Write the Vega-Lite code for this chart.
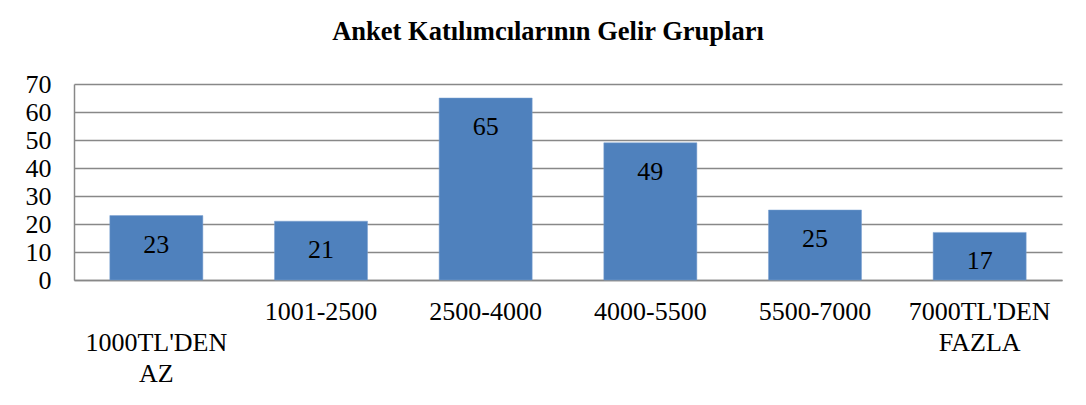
{
  "$schema": "https://vega.github.io/schema/vega-lite/v6.json",
  "width": 988,
  "height": 196,
  "autosize": "none",
  "padding": {"left": 74, "top": 84, "right": 24, "bottom": 125},
  "background": "white",
  "title": {
    "text": "Anket Katılımcılarının Gelir Grupları",
    "font": "Liberation Serif",
    "fontSize": 26.5,
    "fontWeight": "bold",
    "color": "black",
    "anchor": "middle",
    "dx": -20,
    "offset": 26
  },
  "data": {
    "values": [
      {"grup": "1000TL'DEN AZ", "sayi": 23},
      {"grup": "1001-2500", "sayi": 21},
      {"grup": "2500-4000", "sayi": 65},
      {"grup": "4000-5500", "sayi": 49},
      {"grup": "5500-7000", "sayi": 25},
      {"grup": "7000TL'DEN FAZLA", "sayi": 17}
    ]
  },
  "encoding": {
    "x": {
      "field": "grup",
      "type": "nominal",
      "sort": null,
      "scale": {"paddingInner": 0.435, "paddingOuter": 0.2175},
      "axis": {
        "title": null,
        "labelAngle": 0,
        "labelFont": "Liberation Serif",
        "labelFontSize": 26,
        "labelColor": "black",
        "labelPadding": 18,
        "labelLineHeight": 31,
        "labelBaseline": "top",
        "labelExpr": "datum.value == '1000TL\\'DEN AZ' ? ['', '1000TL\\'DEN', 'AZ'] : datum.value == '7000TL\\'DEN FAZLA' ? ['7000TL\\'DEN', 'FAZLA'] : datum.value",
        "ticks": false,
        "domainColor": "#888888",
        "domainWidth": 1.5,
        "labelOverlap": false,
        "labelBound": false
      }
    },
    "y": {
      "field": "sayi",
      "type": "quantitative",
      "scale": {"domain": [0, 70], "nice": false},
      "axis": {
        "title": null,
        "values": [0, 10, 20, 30, 40, 50, 60, 70],
        "labelFont": "Liberation Serif",
        "labelFontSize": 26,
        "labelColor": "black",
        "labelPadding": 23,
        "ticks": false,
        "domainColor": "#888888",
        "domainWidth": 1.5,
        "gridColor": "#888888",
        "gridWidth": 1.5,
        "labelOverlap": false
      }
    }
  },
  "layer": [
    {
      "mark": {"type": "bar", "color": "#4F81BD", "stroke": "#7BA0D0", "strokeWidth": 0.5}
    },
    {
      "mark": {
        "type": "text",
        "font": "Liberation Serif",
        "fontSize": 26,
        "color": "black",
        "baseline": "middle",
        "dy": 29
      },
      "encoding": {"text": {"field": "sayi", "type": "quantitative"}}
    }
  ],
  "config": {"view": {"stroke": null}}
}
